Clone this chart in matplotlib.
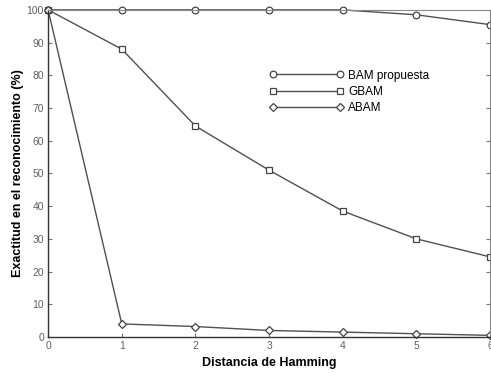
import matplotlib
matplotlib.use("Agg")
import matplotlib.pyplot as plt

plt.rcParams['font.family'] = ['Liberation Sans', 'DejaVu Sans']

distancia = [0, 1, 2, 3, 4, 5, 6]
bam_propuesta = [100, 100, 100, 100, 100, 98.5, 95.5]
gbam = [100, 88, 64.5, 51, 38.5, 30, 24.5]
abam = [100, 4, 3.2, 2, 1.5, 1, 0.5]

x_ticks = [0, 1, 2, 3, 4, 5, 6]
y_ticks = [0, 10, 20, 30, 40, 50, 60, 70, 80, 90, 100]

line_color = '#505050'

fig = plt.figure(figsize=(4.91, 3.73), dpi=100)
ax = fig.add_axes([0.098, 0.0965, 0.900, 0.877])

common = dict(color=line_color, lw=1.0, markersize=4.8, markerfacecolor='white',
              markeredgecolor='#444444', markeredgewidth=0.9, clip_on=False)
ax.plot(distancia, bam_propuesta, marker='o', label='BAM propuesta', **common)
ax.plot(distancia, gbam, marker='s', label='GBAM', **dict(common, markersize=4.4))
ax.plot(distancia, abam, marker='D', label='ABAM', **dict(common, markersize=4.0))

ax.set_xlim(0, 6)
ax.set_ylim(0, 100)
ax.set_xticks(x_ticks)
ax.set_yticks(y_ticks)
ax.tick_params(direction='in', length=3, width=0.8, colors='#777777',
               labelsize=7.5, labelcolor='#606060', top=False, right=True, pad=3)

for side in ['left', 'bottom']:
    ax.spines[side].set_color('#333333')
    ax.spines[side].set_linewidth(1.0)
for side in ['top', 'right']:
    ax.spines[side].set_color('#888888')
    ax.spines[side].set_linewidth(0.8)

ax.set_xlabel('Distancia de Hamming', fontsize=9, fontweight='bold', labelpad=4)
ax.set_ylabel('Exactitud en el reconocimiento (%)', fontsize=9, fontweight='bold', labelpad=2)

leg = ax.legend(loc='upper left', bbox_to_anchor=(0.49, 0.832), frameon=False,
                numpoints=2, handlelength=6.3, handletextpad=0.4, labelspacing=0.36,
                fontsize=8.5, borderaxespad=0)

fig.savefig('out.png', dpi=100)
